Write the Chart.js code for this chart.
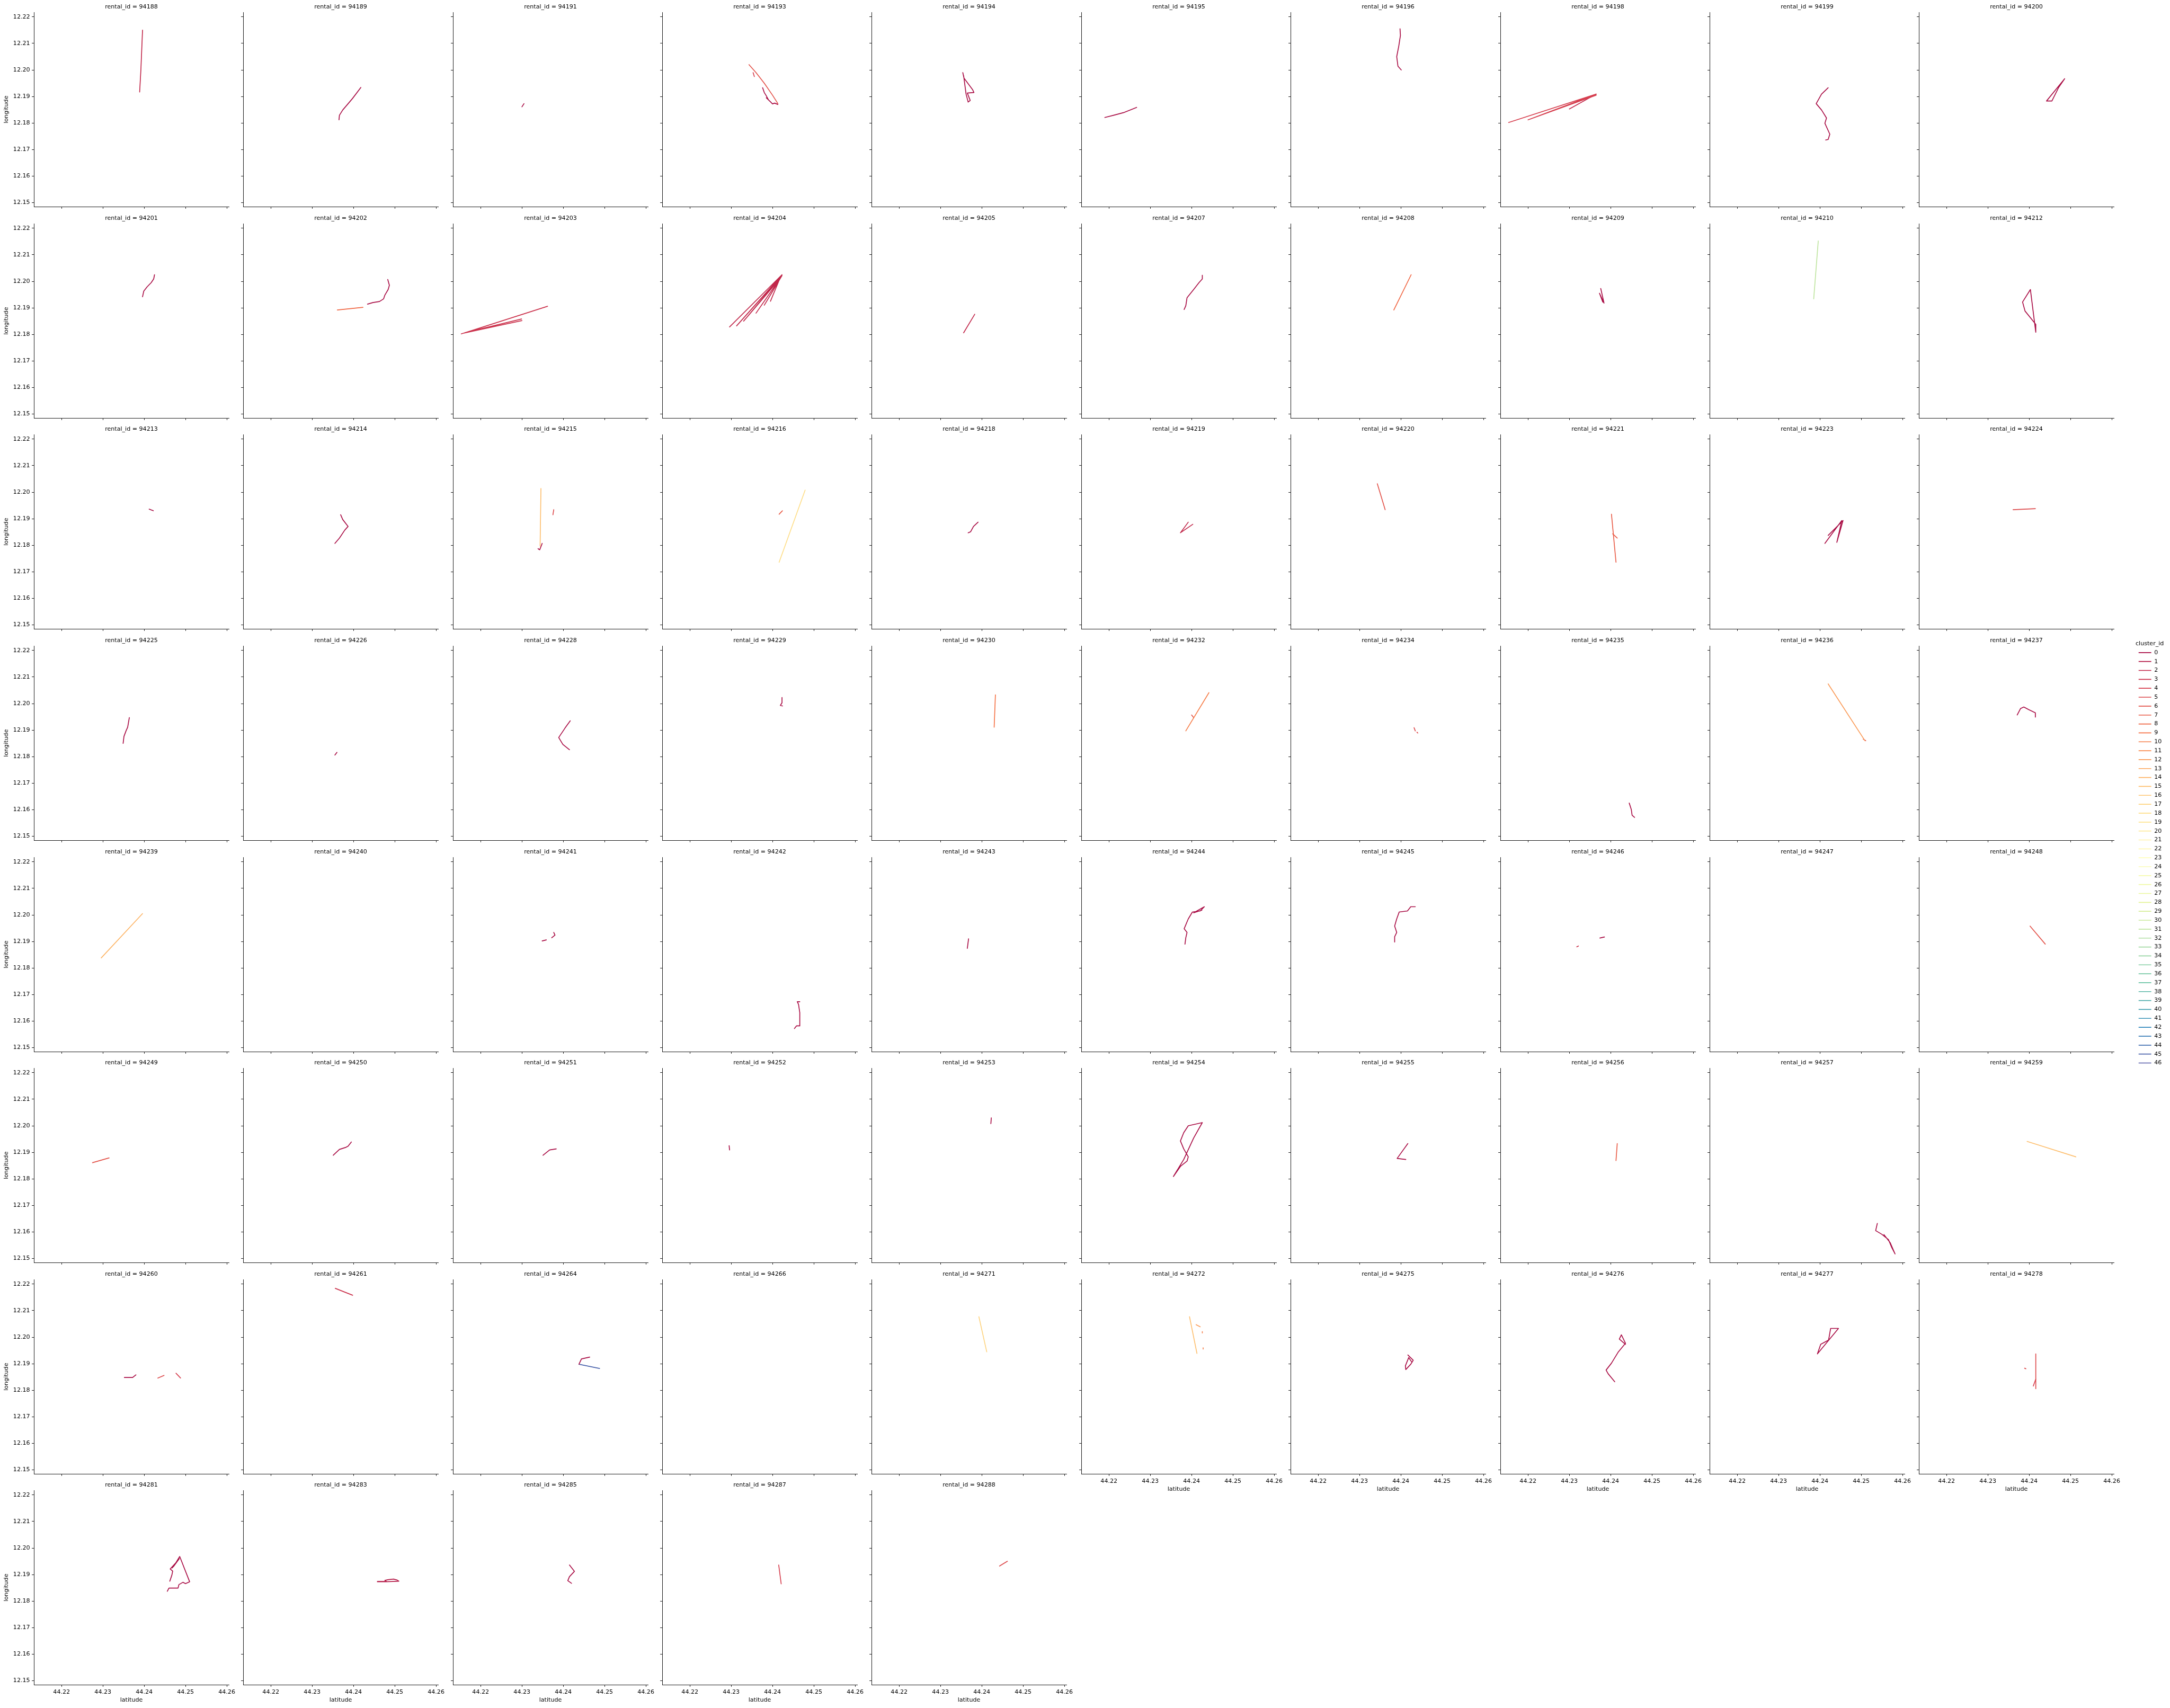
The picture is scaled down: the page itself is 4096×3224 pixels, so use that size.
<!DOCTYPE html>
<html><head><meta charset="utf-8">
<script src="https://cdn.jsdelivr.net/npm/chart.js@4.4.1/dist/chart.umd.min.js"></script>
<style>
html,body{margin:0;padding:0;background:#fff;}
body{width:4096px;height:3224px;position:relative;overflow:hidden;}
.p{position:absolute;}
canvas{display:block;}
</style></head><body>
<script>
// ---------- data ----------
const rentalIds = [
 94188,94189,94191,94193,94194,94195,94196,94198,94199,94200,
 94201,94202,94203,94204,94205,94207,94208,94209,94210,94212,
 94213,94214,94215,94216,94218,94219,94220,94221,94223,94224,
 94225,94226,94228,94229,94230,94232,94234,94235,94236,94237,
 94239,94240,94241,94242,94243,94244,94245,94246,94247,94248,
 94249,94250,94251,94252,94253,94254,94255,94256,94257,94259,
 94260,94261,94264,94266,94271,94272,94275,94276,94277,94278,
 94281,94283,94285,94287,94288];
const latTicks = [44.22, 44.23, 44.24, 44.25, 44.26];
const lonTicks = [12.15, 12.16, 12.17, 12.18, 12.19, 12.20, 12.21, 12.22];
const latRange = [44.2133, 44.2605];
const lonRange = [12.1485, 12.2217];
const clusterIds = [0,1,2,3,4,5,6,7,8,9,10,11,12,13,14,15,16,17,18,19,20,21,22,23,24,25,26,27,28,29,30,31,32,33,34,35,36,37,38,39,40,41,42,43,44,45,46];

// each trip: list of {cluster, pts:[[latitude, longitude], ...]}
const r94188 = [{cluster:2, pts:[[44.2389,12.1917],[44.2392,12.2000],[44.2396,12.2150]]}];
const r94189 = [{cluster:0, pts:[[44.2365,12.1812],[44.2366,12.1829],[44.2374,12.1849],[44.2385,12.1869],[44.2398,12.1893],[44.2418,12.1934]]}];
const r94191 = [{cluster:0, pts:[[44.2300,12.1861],[44.2305,12.1873]]}];
const r94193 = [
 {cluster:6, pts:[[44.2343,12.2020],[44.2360,12.1990],[44.2380,12.1950],[44.2400,12.1905],[44.2413,12.1873]]},
 {cluster:4, pts:[[44.2353,12.1990],[44.2356,12.1975]]},
 {cluster:0, pts:[[44.2376,12.1933],[44.2380,12.1915],[44.2384,12.1905],[44.2390,12.1888],[44.2385,12.1895],[44.2395,12.1880],[44.2400,12.1872],[44.2405,12.1875],[44.2413,12.1870]]}];
const r94194 = [{cluster:0, pts:[[44.2354,12.1990],[44.2357,12.1969],[44.2378,12.1925],[44.2381,12.1915],[44.2365,12.1913],[44.2372,12.1885],[44.2367,12.1879],[44.2362,12.1909],[44.2356,12.1979]]}];
const r94195 = [{cluster:0, pts:[[44.2190,12.1821],[44.2211,12.1829],[44.2235,12.1839],[44.2251,12.1849],[44.2267,12.1859]]}];
const r94196 = [{cluster:0, pts:[[44.2398,12.2155],[44.2399,12.2130],[44.2395,12.2090],[44.2390,12.2050],[44.2393,12.2014],[44.2401,12.2000]]}];
const r94198 = [
 {cluster:4, pts:[[44.2153,12.1802],[44.2365,12.1909],[44.2200,12.1812],[44.2365,12.1905]]},
 {cluster:2, pts:[[44.2300,12.1853],[44.2365,12.1909]]}];
const r94199 = [{cluster:0, pts:[[44.2420,12.1933],[44.2404,12.1909],[44.2391,12.1873],[44.2404,12.1849],[44.2416,12.1819],[44.2412,12.1799],[44.2424,12.1758],[44.2420,12.1738],[44.2414,12.1736]]}];
const r94200 = [{cluster:0, pts:[[44.2442,12.1883],[44.2486,12.1967],[44.2471,12.1933],[44.2455,12.1883],[44.2442,12.1883]]}];
const r94201 = [{cluster:0, pts:[[44.2396,12.1942],[44.2399,12.1963],[44.2407,12.1979],[44.2417,12.1995],[44.2423,12.2009],[44.2425,12.2025]]}];
const r94202 = [
 {cluster:8, pts:[[44.2361,12.1892],[44.2423,12.1902]]},
 {cluster:0, pts:[[44.2434,12.1914],[44.2447,12.1920],[44.2463,12.1924],[44.2473,12.1934],[44.2476,12.1948],[44.2484,12.1969],[44.2487,12.1985],[44.2483,12.2007]]}];
const r94203 = [{cluster:3, pts:[[44.2153,12.1802],[44.2362,12.1906],[44.2170,12.1810],[44.2299,12.1858],[44.2160,12.1805],[44.2300,12.1852]]}];
const r94204 = [{cluster:2, pts:[[44.2296,12.1828],[44.2423,12.2025],[44.2313,12.1832],[44.2420,12.2018],[44.2330,12.1850],[44.2418,12.2010],[44.2360,12.1880],[44.2423,12.2022],[44.2380,12.1910],[44.2415,12.2000],[44.2395,12.1925]]}];
const r94205 = [{cluster:2, pts:[[44.2356,12.1806],[44.2383,12.1876]]}];
const r94207 = [{cluster:0, pts:[[44.2382,12.1894],[44.2386,12.1908],[44.2389,12.1938],[44.2405,12.1969],[44.2418,12.1995],[44.2426,12.2009],[44.2426,12.2023]]}];
const r94208 = [{cluster:8, pts:[[44.2383,12.1892],[44.2425,12.2025]]}];
const r94209 = [{cluster:0, pts:[[44.2376,12.1973],[44.2384,12.1918],[44.2373,12.1955],[44.2381,12.1922]]}];
const r94210 = [{cluster:31, pts:[[44.2396,12.2152],[44.2385,12.1934]]}];
const r94212 = [{cluster:0, pts:[[44.2403,12.1969],[44.2384,12.1922],[44.2390,12.1888],[44.2416,12.1838],[44.2416,12.1808],[44.2403,12.1969]]}];
const r94213 = [{cluster:0, pts:[[44.2412,12.1936],[44.2422,12.1930]]}];
const r94214 = [{cluster:0, pts:[[44.2369,12.1915],[44.2374,12.1897],[44.2387,12.1871],[44.2379,12.1857],[44.2366,12.1827],[44.2355,12.1807]]}];
const r94215 = [
 {cluster:15, pts:[[44.2346,12.2014],[44.2344,12.1797]]},
 {cluster:0, pts:[[44.2339,12.1787],[44.2343,12.1783],[44.2349,12.1807]]},
 {cluster:5, pts:[[44.2377,12.1934],[44.2375,12.1915]]}];
const r94216 = [
 {cluster:18, pts:[[44.2416,12.1736],[44.2479,12.2008]]},
 {cluster:7, pts:[[44.2416,12.1917],[44.2424,12.1930]]}];
const r94218 = [{cluster:0, pts:[[44.2367,12.1847],[44.2373,12.1851],[44.2380,12.1871],[44.2391,12.1887]]}];
const r94219 = [{cluster:2, pts:[[44.2392,12.1887],[44.2373,12.1847],[44.2403,12.1879]]}];
const r94220 = [{cluster:6, pts:[[44.2343,12.2032],[44.2362,12.1934]]}];
const r94221 = [
 {cluster:7, pts:[[44.2402,12.1917],[44.2413,12.1736]]},
 {cluster:7, pts:[[44.2405,12.1843],[44.2416,12.1827]]}];
const r94223 = [{cluster:0, pts:[[44.2412,12.1807],[44.2453,12.1893],[44.2441,12.1811],[44.2456,12.1893],[44.2420,12.1837]]}];
const r94224 = [{cluster:5, pts:[[44.2361,12.1934],[44.2415,12.1938]]}];
const r94225 = [{cluster:0, pts:[[44.2349,12.1850],[44.2351,12.1876],[44.2356,12.1897],[44.2360,12.1911],[44.2364,12.1947]]}];
const r94226 = [{cluster:0, pts:[[44.2355,12.1806],[44.2360,12.1816]]}];
const r94228 = [{cluster:0, pts:[[44.2417,12.1935],[44.2404,12.1907],[44.2389,12.1872],[44.2399,12.1846],[44.2415,12.1826]]}];
const r94229 = [{cluster:0, pts:[[44.2423,12.2023],[44.2423,12.2003],[44.2419,12.1993],[44.2424,12.1991]]}];
const r94230 = [{cluster:9, pts:[[44.2433,12.2033],[44.2430,12.1911]]}];
const r94232 = [
 {cluster:10, pts:[[44.2386,12.1897],[44.2442,12.2041]]},
 {cluster:6, pts:[[44.2400,12.1957],[44.2405,12.1947]]}];
const r94234 = [
 {cluster:5, pts:[[44.2432,12.1909],[44.2435,12.1897]]},
 {cluster:5, pts:[[44.2439,12.1892],[44.2441,12.1889]]}];
const r94235 = [{cluster:0, pts:[[44.2445,12.1625],[44.2450,12.1601],[44.2452,12.1579],[44.2458,12.1571]]}];
const r94236 = [
 {cluster:12, pts:[[44.2420,12.2074],[44.2509,12.1860]]},
 {cluster:5, pts:[[44.2505,12.1866],[44.2511,12.1860]]}];
const r94237 = [{cluster:0, pts:[[44.2371,12.1957],[44.2379,12.1981],[44.2387,12.1987],[44.2399,12.1977],[44.2415,12.1965],[44.2415,12.1949]]}];
const r94239 = [{cluster:14, pts:[[44.2296,12.1838],[44.2396,12.2005]]}];
const r94240 = [];
const r94241 = [
 {cluster:0, pts:[[44.2349,12.1902],[44.2359,12.1906]]},
 {cluster:0, pts:[[44.2372,12.1914],[44.2380,12.1924],[44.2377,12.1934]]}];
const r94242 = [{cluster:0, pts:[[44.2453,12.1572],[44.2458,12.1582],[44.2466,12.1582],[44.2466,12.1632],[44.2463,12.1663],[44.2460,12.1673],[44.2466,12.1673]]}];
const r94243 = [{cluster:0, pts:[[44.2368,12.1910],[44.2365,12.1874]]}];
const r94244 = [{cluster:0, pts:[[44.2384,12.1890],[44.2386,12.1914],[44.2389,12.1934],[44.2382,12.1948],[44.2392,12.1985],[44.2402,12.2011],[44.2421,12.2015],[44.2431,12.2031],[44.2405,12.2008],[44.2425,12.2018]]}];
const r94245 = [{cluster:0, pts:[[44.2385,12.1898],[44.2385,12.1918],[44.2390,12.1934],[44.2385,12.1958],[44.2390,12.1985],[44.2396,12.2011],[44.2416,12.2015],[44.2424,12.2031],[44.2435,12.2031]]}];
const r94246 = [
 {cluster:3, pts:[[44.2318,12.1880],[44.2322,12.1883]]},
 {cluster:0, pts:[[44.2374,12.1913],[44.2385,12.1917]]}];
const r94247 = [];
const r94248 = [{cluster:6, pts:[[44.2402,12.1958],[44.2439,12.1890]]}];
const r94249 = [{cluster:6, pts:[[44.2275,12.1861],[44.2315,12.1879]]}];
const r94250 = [{cluster:0, pts:[[44.2351,12.1889],[44.2366,12.1911],[44.2382,12.1919],[44.2387,12.1923],[44.2395,12.1939]]}];
const r94251 = [{cluster:0, pts:[[44.2351,12.1889],[44.2367,12.1909],[44.2383,12.1913]]}];
const r94252 = [{cluster:0, pts:[[44.2295,12.1925],[44.2296,12.1909]]}];
const r94253 = [{cluster:0, pts:[[44.2423,12.2030],[44.2422,12.2008]]}];
const r94254 = [{cluster:0, pts:[[44.2356,12.1809],[44.2373,12.1847],[44.2389,12.1867],[44.2392,12.1883],[44.2381,12.1913],[44.2373,12.1943],[44.2381,12.1974],[44.2392,12.2000],[44.2426,12.2012],[44.2405,12.1954],[44.2381,12.1873],[44.2356,12.1809]]}];
const r94255 = [{cluster:0, pts:[[44.2417,12.1933],[44.2391,12.1877],[44.2412,12.1873]]}];
const r94256 = [{cluster:7, pts:[[44.2416,12.1933],[44.2413,12.1869]]}];
const r94257 = [{cluster:0, pts:[[44.2539,12.1632],[44.2535,12.1605],[44.2550,12.1591],[44.2566,12.1571],[44.2574,12.1541],[44.2582,12.1517],[44.2570,12.1560],[44.2555,12.1590]]}];
const r94259 = [{cluster:15, pts:[[44.2395,12.1941],[44.2513,12.1883]]}];
const r94260 = [
 {cluster:0, pts:[[44.2352,12.1848],[44.2372,12.1848],[44.2380,12.1858]]},
 {cluster:5, pts:[[44.2433,12.1846],[44.2448,12.1856]]},
 {cluster:4, pts:[[44.2477,12.1864],[44.2488,12.1846]]}];
const r94261 = [{cluster:3, pts:[[44.2356,12.2184],[44.2398,12.2158]]}];
const r94264 = [
 {cluster:0, pts:[[44.2438,12.1898],[44.2444,12.1918],[44.2464,12.1925]]},
 {cluster:45, pts:[[44.2438,12.1898],[44.2488,12.1882]]}];
const r94266 = [];
const r94271 = [{cluster:17, pts:[[44.2393,12.2077],[44.2412,12.1945]]}];
const r94272 = [
 {cluster:15, pts:[[44.2395,12.2077],[44.2413,12.1939]]},
 {cluster:12, pts:[[44.2411,12.2047],[44.2421,12.2039]]},
 {cluster:10, pts:[[44.2426,12.2021],[44.2426,12.2016]]},
 {cluster:10, pts:[[44.2428,12.1955],[44.2428,12.1960]]}];
const r94275 = [{cluster:0, pts:[[44.2417,12.1933],[44.2430,12.1913],[44.2424,12.1898],[44.2412,12.1878],[44.2411,12.1892],[44.2419,12.1923],[44.2427,12.1905]]}];
const r94276 = [{cluster:0, pts:[[44.2410,12.1832],[44.2394,12.1862],[44.2389,12.1876],[44.2402,12.1902],[44.2418,12.1943],[44.2436,12.1977],[44.2426,12.2009],[44.2421,12.1993],[44.2436,12.1973]]}];
const r94277 = [{cluster:0, pts:[[44.2394,12.1937],[44.2402,12.1973],[44.2421,12.1989],[44.2426,12.2033],[44.2445,12.2033],[44.2394,12.1937]]}];
const r94278 = [
 {cluster:5, pts:[[44.2416,12.1937],[44.2416,12.1806]]},
 {cluster:4, pts:[[44.2410,12.1816],[44.2416,12.1842]]},
 {cluster:5, pts:[[44.2389,12.1883],[44.2392,12.1881]]}];
const r94281 = [{cluster:0, pts:[[44.2456,12.1837],[44.2460,12.1849],[44.2482,12.1849],[44.2484,12.1862],[44.2494,12.1871],[44.2500,12.1866],[44.2510,12.1873],[44.2486,12.1968],[44.2471,12.1930],[44.2485,12.1960],[44.2468,12.1925],[44.2480,12.1950],[44.2463,12.1921],[44.2469,12.1913],[44.2467,12.1898],[44.2462,12.1875]]}];
const r94283 = [{cluster:1, pts:[[44.2458,12.1874],[44.2480,12.1874],[44.2476,12.1878],[44.2485,12.1881],[44.2497,12.1883],[44.2506,12.1879],[44.2510,12.1875],[44.2480,12.1873],[44.2458,12.1873]]}];
const r94285 = [{cluster:0, pts:[[44.2415,12.1936],[44.2427,12.1912],[44.2415,12.1892],[44.2411,12.1877],[44.2420,12.1867]]}];
const r94287 = [{cluster:4, pts:[[44.2415,12.1936],[44.2421,12.1865]]}];
const r94288 = [{cluster:5, pts:[[44.2443,12.1932],[44.2462,12.1950]]}];

const tripList = [
 r94188,r94189,r94191,r94193,r94194,r94195,r94196,r94198,r94199,r94200,
 r94201,r94202,r94203,r94204,r94205,r94207,r94208,r94209,r94210,r94212,
 r94213,r94214,r94215,r94216,r94218,r94219,r94220,r94221,r94223,r94224,
 r94225,r94226,r94228,r94229,r94230,r94232,r94234,r94235,r94236,r94237,
 r94239,r94240,r94241,r94242,r94243,r94244,r94245,r94246,r94247,r94248,
 r94249,r94250,r94251,r94252,r94253,r94254,r94255,r94256,r94257,r94259,
 r94260,r94261,r94264,r94266,r94271,r94272,r94275,r94276,r94277,r94278,
 r94281,r94283,r94285,r94287,r94288];

// ---------- style ----------
const spectralNodes = [[158,1,66],[213,62,79],[244,109,67],[253,174,97],[254,224,139],[255,255,191],[230,245,152],[171,221,164],[102,194,165],[50,136,189],[94,79,162]];
function spectral(t){
  const i = Math.min(255, Math.floor(t*256));
  const u = i/255*10; const k = Math.min(9, Math.floor(u)); const f = u-k;
  const a = spectralNodes[k], b = spectralNodes[k+1];
  return 'rgb(' + [0,1,2].map(j => Math.round(a[j] + (b[j]-a[j])*f)).join(',') + ')';
}
const palette = clusterIds.map(i => spectral((i+1)/(clusterIds.length+1)));

const FONT = "'DejaVu Sans', sans-serif";
const FS = 11.1;
const LW = 1.67;
const COL_X0 = 63.8, COL_DX = 395.4, ROW_Y0 = 23.6, ROW_DY = 398.6;
const PAD_L = 60, PAD_R = 30, PAD_B = 40, TITLE_H = 2 + FS*1.2 + 4;
const CW = 458, CH = 426;

function axisCommon(showLabels){
  return {
    type: 'linear', bounds: 'data',
    grid: {display: true, drawOnChartArea: false, drawTicks: true, tickLength: 3.9, color: '#000', lineWidth: 0.9},
    border: {display: true, color: '#000', width: 0.9},
    ticks: {display: showLabels, color: '#000', font: {family: FONT, size: FS}, padding: 3.5, maxRotation: 0, autoSkip: false,
            callback: v => Number(v).toFixed(2)}
  };
}

rentalIds.forEach((id, idx) => {
  const r = Math.floor(idx/10), c = idx % 10;
  const plotLeft = COL_X0 + c*COL_DX, plotTop = ROW_Y0 + r*ROW_DY;
  const div = document.createElement('div'); div.className = 'p';
  div.style.left = Math.round(plotLeft - PAD_L) + 'px';
  div.style.top = Math.round(plotTop - TITLE_H) + 'px';
  const cv = document.createElement('canvas');
  cv.width = CW; cv.height = CH; cv.style.width = CW+'px'; cv.style.height = CH+'px';
  div.appendChild(cv); document.body.appendChild(div);
  const showY = c === 0;
  const showX = (r === 7) || (r === 6 && c >= 5);
  const datasets = tripList[idx].map(seg => ({
    label: String(seg.cluster),
    data: seg.pts.map(p => ({x: p[0], y: p[1]})),
    borderColor: palette[seg.cluster], backgroundColor: palette[seg.cluster],
    borderWidth: LW, pointRadius: 0, showLine: true, fill: false, tension: 0,
    borderJoinStyle: 'round', borderCapStyle: 'round'
  }));
  const xs = axisCommon(showX);
  xs.min = latRange[0]; xs.max = latRange[1];
  xs.afterBuildTicks = s => { s.ticks = latTicks.map(v => ({value: v})); };
  xs.afterFit = s => { s.height = PAD_B; };
  xs.title = {display: showX, text: 'latitude', color: '#000', font: {family: FONT, size: FS}, padding: {top: 0, bottom: 4.6}};
  const ys = axisCommon(showY);
  ys.min = lonRange[0]; ys.max = lonRange[1];
  ys.afterBuildTicks = s => { s.ticks = lonTicks.map(v => ({value: v})); };
  ys.afterFit = s => { s.width = PAD_L; };
  ys.title = {display: showY, text: 'longitude', color: '#000', font: {family: FONT, size: FS}, padding: {top: 1.9, bottom: 0}};
  new Chart(cv, {
    type: 'scatter',
    data: {datasets},
    options: {
      responsive: false, animation: false, events: [],
      layout: {padding: {left: 0, right: PAD_R, top: 0, bottom: 0}},
      plugins: {
        legend: {display: false}, tooltip: {enabled: false},
        title: {display: true, fullSize: false, text: 'rental_id = ' + id, color: '#000',
                font: {family: FONT, size: FS, weight: 'normal', lineHeight: 1.2}, padding: {top: 2, bottom: 4}}
      },
      scales: {x: xs, y: ys}
    }
  });
});

// ---------- legend ----------
(function(){
  const div = document.createElement('div'); div.className = 'p';
  div.style.left = '4031px'; div.style.top = '1210px';
  const cv = document.createElement('canvas');
  cv.width = 200; cv.height = 900; cv.style.width = '200px'; cv.style.height = '900px';
  div.appendChild(cv); document.body.appendChild(div);
  new Chart(cv, {
    type: 'line',
    data: {labels: [], datasets: clusterIds.map(i => ({label: String(i), data: [], borderColor: palette[i], backgroundColor: palette[i], borderWidth: LW}))},
    options: {
      responsive: false, animation: false, events: [],
      layout: {padding: 0},
      scales: {x: {display: false}, y: {display: false}},
      plugins: {
        tooltip: {enabled: false},
        legend: {display: true, position: 'left', align: 'start',
          labels: {usePointStyle: true, pointStyle: 'line', pointStyleWidth: 23.9, padding: 5.74, color: '#000', font: {family: FONT, size: FS}},
          title: {display: true, text: 'cluster_id', position: 'start', color: '#000', font: {family: FONT, size: FS, lineHeight: 0.95}, padding: {top: 0, bottom: 0}}
        }
      }
    }
  });
})();
</script>
</body></html>
